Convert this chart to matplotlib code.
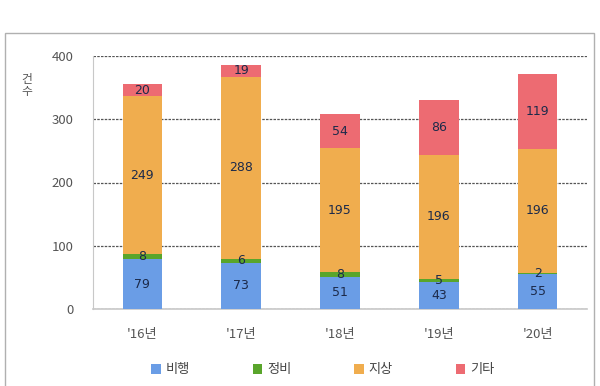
import matplotlib
matplotlib.use("Agg")
import matplotlib.pyplot as plt
from matplotlib.patches import Rectangle
import numpy as np

plt.rcParams['font.family'] = ['Noto Sans CJK KR', 'DejaVu Sans']

categories = ["'16년", "'17년", "'18년", "'19년", "'20년"]
series_names = ["비행", "정비", "지상", "기타"]
flight = [79, 73, 51, 43, 55]
maint = [8, 6, 8, 5, 2]
ground = [249, 288, 195, 196, 196]
other = [20, 19, 54, 86, 119]
colors = ["#6a9de6", "#59a52b", "#f0ad4e", "#ed6b72"]
y_ticks = [0, 100, 200, 300, 400]

fig = plt.figure(figsize=(6, 3.86), dpi=100)
fig.patches.append(Rectangle((5/600, -0.02), 589/600, (386-33)/386 + 0.02,
                             transform=fig.transFigure, fill=False,
                             edgecolor="#b0b0b0", linewidth=1.0, zorder=0))
ax = fig.add_axes([93/600, 1-309/386, 494/600, (309-56)/386])

x = np.arange(len(categories))
width = 0.4
bottom = np.zeros(len(categories))
for vals, col, name in zip([flight, maint, ground, other], colors, series_names):
    vals = np.array(vals, dtype=float)
    ax.bar(x, vals, width, bottom=bottom, color=col, label=name, zorder=3)
    for xi, b, v in zip(x, bottom, vals):
        ax.text(xi, b + v/2, f"{int(v)}", ha="center", va="center",
                fontsize=9, color="#1c2a4a", zorder=4,
                family=['DejaVu Sans'])
    bottom += vals

ax.set_xlim(-0.5, len(categories) - 0.5)
ax.set_ylim(0, 400)
ax.set_yticks(y_ticks)
ax.set_xticks(x)
ax.set_xticklabels(categories)
ax.tick_params(axis='both', length=0, colors="#555555", labelsize=9.5)
ax.tick_params(axis='x', pad=14)
ax.tick_params(axis='y', pad=14)
ax.yaxis.grid(True, linestyle=(0, (2, 1)), color="#555555", linewidth=0.9, zorder=0)
for s in ["top", "right"]:
    ax.spines[s].set_visible(False)
ax.spines["left"].set_color("#c8c8c8")
ax.spines["bottom"].set_color("#c8c8c8")
ax.spines["bottom"].set_linewidth(1.2)

fig.text(27/600, 1-85/386, "건\n수", fontsize=8.5, color="#555555",
         ha="center", va="center", linespacing=0.9)

handles, labels = ax.get_legend_handles_labels()
fig.legend(handles, labels, loc="center", bbox_to_anchor=(323/600, 1-370/386),
           ncol=4, frameon=False, fontsize=9.5, handlelength=0.7, handleheight=0.7,
           handletextpad=0.4, columnspacing=4.75, labelcolor="#444444")

fig.savefig("out.png", dpi=100)
